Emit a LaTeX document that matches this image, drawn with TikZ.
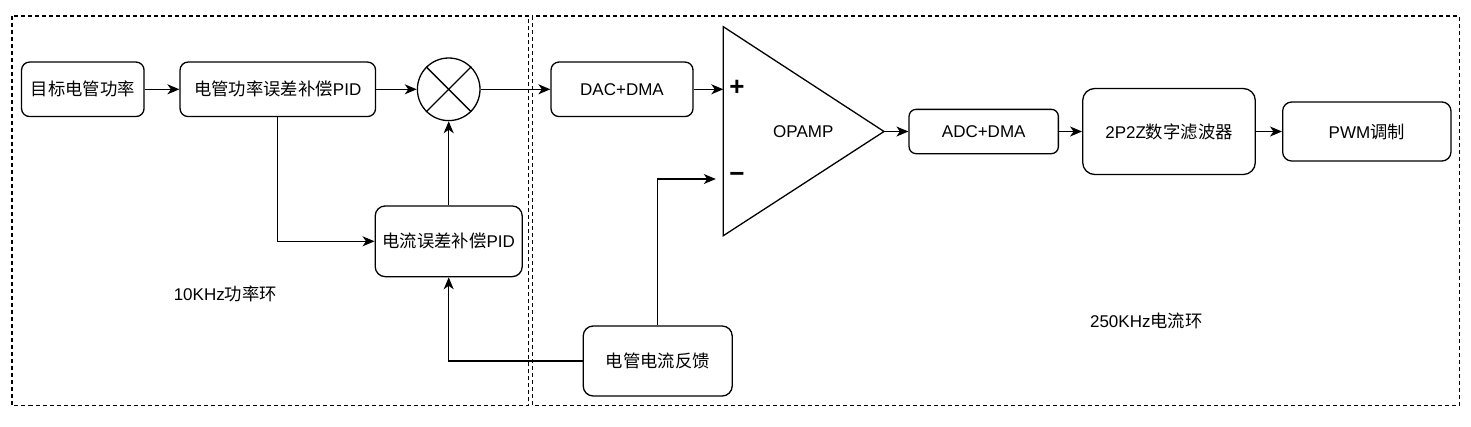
\documentclass[tikz,border=0pt]{standalone}
\usepackage{fontspec}
\setmainfont{Liberation Sans}
\newfontfamily\cjk[Scale=1.02]{Noto Sans CJK SC}
\usetikzlibrary{arrows.meta}
\begin{document}
\begin{tikzpicture}[x=1pt,y=-1pt,
  blk/.style={draw, line width=1.3pt, rounded corners=8pt, inner sep=0pt, font=\fontsize{17}{20}\selectfont},
  conn/.style={line width=1.3pt, -{Stealth[length=12pt,width=10pt,inset=3.5pt]}},
  wire/.style={line width=1.3pt},
  region/.style={draw, line width=1.2pt, dash pattern=on 4pt off 3pt},
  lbl/.style={font=\fontsize{17}{20}\selectfont, inner sep=0pt},
  sign/.style={font=\bfseries\fontsize{26}{26}\selectfont, inner sep=0pt}]
\useasboundingbox (0,0) rectangle (1471,426);
\fill[white] (0,0) rectangle (1471,426);

% regions
\draw[region] (12,16) rectangle (528.3,405.5);
\draw[region] (532.3,16) rectangle (1459.3,405.5);

% blocks
\node[blk, minimum width=122.5pt, minimum height=54.5pt] (tgt) at (82.8,89.3) {{\cjk 目标电管功率}};
\node[blk, minimum width=195.5pt, minimum height=54.5pt] (pid1) at (277.8,89.3) {{\cjk 电管功率误差补偿}PID};
\node[draw, circle, line width=1.3pt, minimum size=62.6pt, inner sep=0pt] (sum) at (448.7,89.3) {};
\draw[wire] (sum.north west) -- (sum.south east);
\draw[wire] (sum.north east) -- (sum.south west);
\node[blk, minimum width=142pt, minimum height=54.5pt] (dac) at (622,89.3) {DAC+DMA};
\node[blk, rounded corners=10pt, minimum width=147pt, minimum height=70.7pt] (cpid) at (448.7,241.3) {{\cjk 电流误差补偿}PID};
\node[blk, rounded corners=10pt, minimum width=149pt, minimum height=70pt] (fb) at (657.7,361) {{\cjk 电管电流反馈}};

% opamp
\coordinate (optip) at (884,131.5);
\coordinate (opplus) at (723.3,89.3);
\coordinate (opminus) at (723.3,179);
\draw[wire, line join=miter] (723.3,26.7) -- (optip) -- (723.3,235.7) -- cycle;
\node[lbl] (opl) at (803.3,132) {OPAMP};
\node[sign] (plus) at (737,88) {+};
\node[sign] (minus) at (737,177.5) {−};

\node[blk, rounded corners=7pt, minimum width=149.3pt, minimum height=44.3pt] (adc) at (983.7,131.5) {ADC+DMA};
\node[blk, rounded corners=12pt, minimum width=172.6pt, minimum height=86pt] (fil) at (1169,131.5) {2P2Z{\cjk 数字滤波器}};
\node[blk, rounded corners=9pt, minimum width=168.3pt, minimum height=59pt] (pwm) at (1366.8,131.5) {PWM{\cjk 调制}};

% labels
\node[lbl] (l1) at (225.3,294) {10KHz{\cjk 功率环}};
\node[lbl] (l2) at (1146.3,321) {250KHz{\cjk 电流环}};

% connectors
\draw[conn] (tgt) -- (pid1);
\draw[conn] (pid1) -- (sum);
\draw[conn] (sum) -- (dac);
\draw[conn] (dac.east) -- (opplus);
\draw[conn] (pid1.south) |- (cpid.west);
\draw[conn] (cpid) -- (sum);
\draw[conn] (fb.west) -| (cpid.south);
\draw[conn, shorten >=7.5pt] (fb.north) |- (opminus);
\draw[conn] (optip) -- (adc.west);
\draw[conn] (adc) -- (fil);
\draw[conn] (fil) -- (pwm);
\end{tikzpicture}
\end{document}
